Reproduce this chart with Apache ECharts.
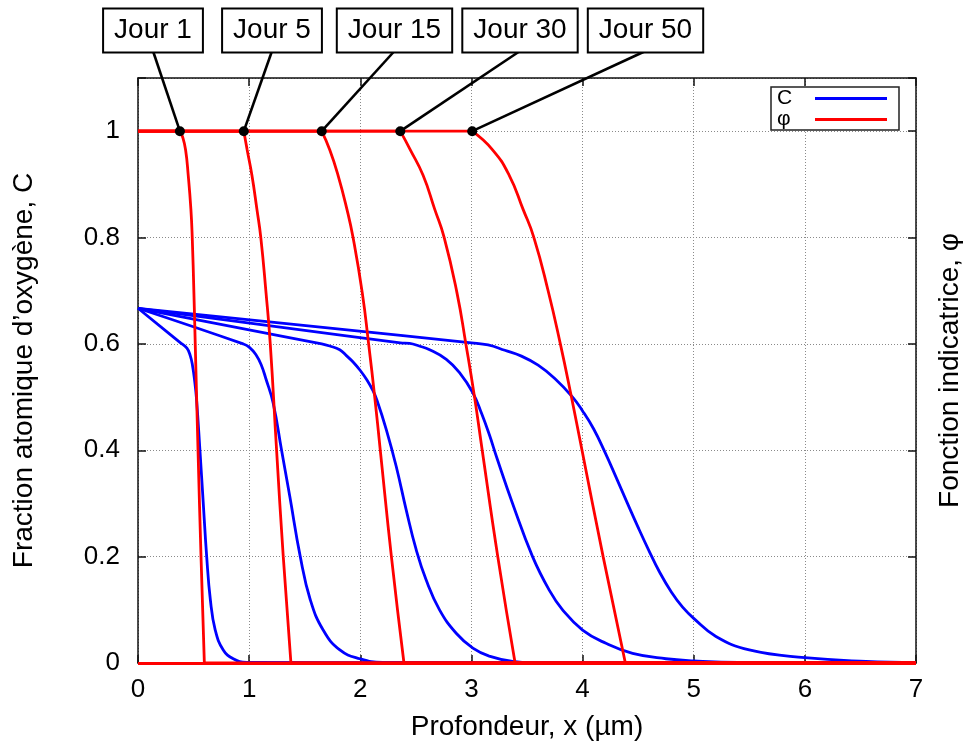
<!DOCTYPE html>
<html><head><meta charset="utf-8">
<script src="https://cdn.jsdelivr.net/npm/echarts@6/dist/echarts.min.js"></script>
<style>html,body{margin:0;padding:0;background:#fff}#c{width:963px;height:753px}</style>
</head><body><div id="c"></div>
<script>
// ---- data ----
const days = ['Jour 1', 'Jour 5', 'Jour 15', 'Jour 30', 'Jour 50'];
const interfaceX = [0.377, 0.952, 1.653, 2.36, 3.007];
const xTickLabels = ['0', '1', '2', '3', '4', '5', '6', '7'];
const yTickLabels = ['0', '0.2', '0.4', '0.6', '0.8', '1'];

// oxygen fraction C(x) for each day
const C_jour1 = [[0,0.667],[0.377,0.603],[0.44,0.592],[0.47,0.578],[0.49,0.56],[0.51,0.53],[0.527,0.495],[0.557,0.401],[0.587,0.301],[0.618,0.2],[0.651,0.119],[0.695,0.062],[0.767,0.0245],[0.857,0.008],[0.977,0.001],[7,0]];
const C_jour5 = [[0,0.667],[0.946,0.6],[1.0,0.594],[1.06,0.58],[1.11,0.56],[1.15,0.535],[1.216,0.489],[1.291,0.401],[1.366,0.313],[1.46,0.2],[1.55,0.119],[1.666,0.062],[1.816,0.0245],[1.995,0.008],[2.2,0.001],[7,0]];
const C_jour15 = [[0,0.667],[1.653,0.6],[1.725,0.596],[1.815,0.589],[1.875,0.578],[1.935,0.566],[2.0,0.55],[2.06,0.532],[2.114,0.512],[2.15,0.494],[2.234,0.439],[2.323,0.37],[2.413,0.288],[2.503,0.213],[2.593,0.156],[2.713,0.1],[2.863,0.056],[3.013,0.028],[3.16,0.013],[3.37,0.003],[3.6,0],[7,0]];
const C_jour30 = [[0,0.667],[2.36,0.602],[2.444,0.601],[2.53,0.596],[2.624,0.589],[2.774,0.571],[2.893,0.546],[3.013,0.508],[3.09,0.47],[3.16,0.43],[3.23,0.385],[3.37,0.3],[3.55,0.2],[3.70,0.137],[3.82,0.1],[4.0,0.062],[4.21,0.037],[4.45,0.018],[4.75,0.008],[5.0,0.004],[5.4,0.001],[7,0]];
const C_jour50 = [[0,0.667],[3.0,0.602],[3.15,0.598],[3.3,0.588],[3.45,0.577],[3.6,0.56],[3.75,0.535],[3.91,0.5],[4.0,0.474],[4.1,0.44],[4.2,0.397],[4.3,0.35],[4.4,0.302],[4.5,0.255],[4.6,0.21],[4.69,0.172],[4.8,0.133],[4.9,0.105],[5.0,0.084],[5.2,0.05],[5.5,0.0245],[6.0,0.01],[6.55,0.003],[7,0.001]];

// indicator function phi(x): 1 before the interface, the drop below, 0 after
const phi_jour1 = [[0.377,1],[0.40,0.99],[0.428,0.965],[0.452,0.917],[0.476,0.853],[0.488,0.8],[0.503,0.696],[0.515,0.6],[0.54,0.4],[0.567,0.2],[0.597,0]];
const phi_jour5 = [[0.952,1],[0.982,0.965],[1.025,0.917],[1.07,0.853],[1.105,0.8],[1.152,0.696],[1.19,0.6],[1.247,0.4],[1.307,0.2],[1.376,0]];
const phi_jour15 = [[1.653,1],[1.725,0.965],[1.80,0.917],[1.88,0.853],[1.935,0.8],[2.018,0.696],[2.075,0.6],[2.13,0.5],[2.18,0.4],[2.28,0.2],[2.393,0]];
const phi_jour30 = [[2.36,1],[2.45,0.965],[2.565,0.917],[2.67,0.853],[2.755,0.8],[2.87,0.696],[2.95,0.6],[3.028,0.5],[3.097,0.4],[3.237,0.2],[3.393,0]];
const phi_jour50 = [[3.007,1],[3.19,0.965],[3.34,0.917],[3.465,0.853],[3.562,0.8],[3.69,0.7],[3.80,0.6],[3.90,0.5],[3.995,0.4],[4.185,0.2],[4.385,0]];
const X_MIN = 0, X_MAX = 7;

// ---- layout / style ----
const FONT = '"Liberation Sans", Arial, sans-serif';
const BLUE = '#0000ff', RED = '#ff0000';
const BOX_CX = [153, 272, 394.5, 520, 645.5];
const BOX_CY = 30.5, BOX_BOTTOM = 51;

const chart = echarts.init(document.getElementById('c'), null, {renderer: 'canvas'});

const gridLine = {show: true, lineStyle: {color: '#8a8a8a', type: [1, 2], width: 1}};
const axisLine = {show: true, onZero: false, lineStyle: {color: '#111', width: 1.5}};
const tick = {show: true, inside: true, length: 8, lineStyle: {color: '#111', width: 1.5}};

function lineSeries(name, data, color, yIdx, smooth) {
  return {
    type: 'line', name, data, yAxisIndex: yIdx, showSymbol: false, symbol: 'none',
    smooth, color,
    lineStyle: {color, width: 2.8}, emphasis: {disabled: true}, silent: true
  };
}

const Cs = [C_jour1, C_jour5, C_jour15, C_jour30, C_jour50];
const phis = [phi_jour1, phi_jour5, phi_jour15, phi_jour30, phi_jour50];

const series = [
  {type: 'line', name: 'φ', yAxisIndex: 1, data: [], z: -1, color: RED, silent: true,
   markLine: {silent: true, symbol: 'none', label: {show: false}, animation: false,
              lineStyle: {color: RED, width: 2.8, type: 'solid'}, data: [{yAxis: 0}]}}
];
Cs.forEach(d => series.push(lineSeries('C', d, BLUE, 0, 0.45)));
phis.forEach(d => {
  const first = d[0], last = d[d.length - 1];
  series.push(lineSeries('φ', [[X_MIN, first[1]], first], RED, 1, false));
  series.push(lineSeries('φ', d, RED, 1, 0.5));
  series.push(lineSeries('φ', [last, [X_MAX, last[1]]], RED, 1, false));
});
series.push({
  type: 'custom', name: 'annotations', coordinateSystem: 'cartesian2d', yAxisIndex: 1,
  clip: false, silent: true, z: 10,
  data: interfaceX.map((x, i) => [x, 1, i]),
  renderItem: (params, api) => {
    const i = api.value(2);
    const p = api.coord([api.value(0), api.value(1)]);
    const cx = BOX_CX[i];
    return {type: 'group', children: [
      {type: 'line', shape: {x1: cx, y1: BOX_BOTTOM, x2: p[0], y2: p[1]},
       style: {stroke: '#000', lineWidth: 2.6}},
      {type: 'circle', shape: {cx: p[0], cy: p[1], r: 5}, style: {fill: '#000'}},
      {type: 'text', x: cx, y: BOX_CY,
       style: {text: days[i], fill: '#000', fontSize: 28, fontFamily: FONT,
               align: 'center', verticalAlign: 'middle', backgroundColor: '#fff',
               borderColor: '#000', borderWidth: 2, padding: [7, 10]}}
    ]};
  }
});

const option = {
  animation: false,
  backgroundColor: '#fff',
  grid: {left: 138, right: 47, top: 78, bottom: 90, containLabel: false, outerBoundsMode: 'none'},
  legend: {
    data: ['C', 'φ'], orient: 'vertical', align: 'right', left: 771, top: 87,
    icon: 'rect', itemWidth: 72, itemHeight: 3, itemGap: 0,
    padding: [1, 12, 0, 6], borderColor: '#222', borderWidth: 1.5, backgroundColor: '#fff',
    formatter: '{t|{name}}',
    textStyle: {fontFamily: FONT, fontSize: 21, color: '#000', lineHeight: 21,
                rich: {t: {width: 33, align: 'left', fontFamily: FONT, fontSize: 21, color: '#000', lineHeight: 21}}},
    selectedMode: false, z: 20
  },
  xAxis: [
    {type: 'value', min: X_MIN, max: X_MAX, interval: 1, position: 'bottom',
     axisLine, axisTick: tick, splitLine: gridLine,
     axisLabel: {fontFamily: FONT, fontSize: 26, color: '#000', margin: 14,
                 formatter: v => xTickLabels[Math.round(v)] ?? ''},
     name: 'Profondeur, x (µm)', nameLocation: 'middle', nameGap: 50,
     nameTextStyle: {fontFamily: FONT, fontSize: 28, color: '#000'}},
    {type: 'value', min: X_MIN, max: X_MAX, interval: 1, position: 'top',
     axisLine, axisTick: tick, splitLine: {show: false}, axisLabel: {show: false}}
  ],
  yAxis: [
    {type: 'value', min: 0, max: 1.1, interval: 0.2, position: 'left',
     axisLine, axisTick: tick, splitLine: gridLine,
     axisLabel: {fontFamily: FONT, fontSize: 26, color: '#000', margin: 18,
                 formatter: v => { const i = Math.round(v / 0.2); return (Math.abs(v - i * 0.2) < 1e-6) ? (yTickLabels[i] ?? '') : ''; }},
     name: 'Fraction atomique d\u2019oxygène, C', nameLocation: 'middle', nameRotate: 90, nameGap: 100,
     nameTextStyle: {fontFamily: FONT, fontSize: 28, color: '#000'}},
    {type: 'value', min: 0, max: 1.1, interval: 0.2, position: 'right',
     axisLine, axisTick: tick, splitLine: {show: false}, axisLabel: {show: false},
     name: 'Fonction indicatrice, φ', nameLocation: 'middle', nameRotate: 90, nameGap: 20,
     nameTextStyle: {fontFamily: FONT, fontSize: 28, color: '#000'}}
  ],
  series
};
chart.setOption(option);
</script>
</body></html>
